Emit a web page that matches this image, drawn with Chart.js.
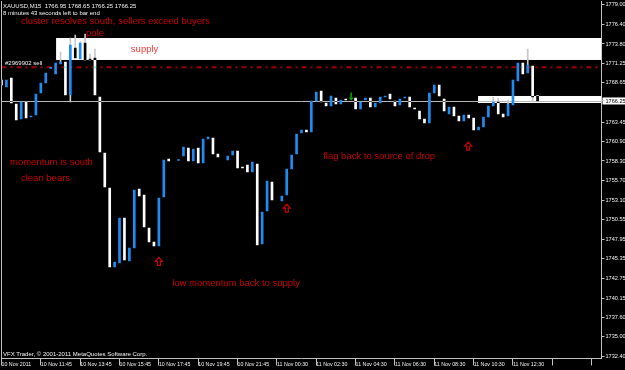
<!DOCTYPE html>
<html>
<head>
<meta charset="utf-8">
<title>XAUUSD,M15</title>
<script src="https://cdn.jsdelivr.net/npm/chart.js@4.4.0/dist/chart.umd.min.js"></script>
<style>
  body { margin: 0; background: #000; }
  #wrap { width: 625px; height: 370px; }
</style>
</head>
<body>
<div id="wrap"><canvas id="chart" width="625" height="370"></canvas></div>
<script>
// XAUUSD M15 bars, 10-11 Nov 2011
var opens = [
  1769.03, 1768.10, 1769.29, 1765.85, 1763.86, 1766.11, 1764.13, 1764.39, 1767.30, 1768.63,
  1770.55, 1769.82, 1771.15, 1771.41, 1767.04, 1773.26, 1771.81, 1773.93, 1771.81, 1771.94,
  1766.77, 1759.36, 1754.72, 1744.26, 1744.79, 1750.75, 1745.05, 1746.77, 1754.59, 1753.79,
  1749.42, 1747.57, 1747.04, 1753.53, 1758.56, 1758.36, 1758.36, 1758.96, 1760.02, 1758.30,
  1760.02, 1758.03, 1761.21, 1761.34, 1759.23, 1758.83, 1758.43, 1759.09, 1759.62, 1757.50,
  1757.77, 1756.84, 1757.90, 1747.30, 1751.68, 1755.52, 1753.13, 1753.00, 1753.79, 1757.24,
  1759.23, 1762.01, 1762.40, 1762.14, 1766.24, 1767.57, 1765.98, 1765.58, 1766.64, 1765.85,
  1766.51, 1766.38, 1766.64, 1765.19, 1766.38, 1766.64, 1765.45, 1765.98, 1766.77, 1767.17,
  1766.24, 1765.72, 1766.64, 1766.77, 1765.32, 1764.92, 1763.86, 1763.33, 1767.30, 1768.36,
  1766.51, 1764.52, 1765.45, 1764.26, 1763.60, 1764.39, 1763.99, 1762.40, 1762.80, 1764.13,
  1765.58, 1766.11, 1764.52, 1764.26, 1765.72, 1768.89, 1771.28, 1769.95, 1770.88, 1766.95
];
var highs = [
  1769.03, 1769.03, 1769.29, 1765.85, 1766.11, 1766.11, 1764.26, 1767.17, 1768.63, 1769.95,
  1770.70, 1771.28, 1772.73, 1771.41, 1774.59, 1774.99, 1774.10, 1775.12, 1772.47, 1773.13,
  1766.77, 1759.36, 1754.72, 1744.92, 1750.75, 1750.75, 1746.77, 1754.46, 1754.59, 1753.79,
  1749.42, 1747.57, 1753.40, 1758.43, 1758.56, 1758.36, 1758.50, 1760.15, 1760.02, 1759.89,
  1760.02, 1761.21, 1761.48, 1761.34, 1759.23, 1758.83, 1758.96, 1759.62, 1759.62, 1757.50,
  1757.77, 1758.17, 1757.90, 1751.54, 1755.65, 1755.52, 1753.13, 1753.66, 1757.24, 1759.09,
  1761.87, 1762.40, 1762.40, 1766.24, 1767.44, 1767.57, 1765.98, 1766.91, 1766.64, 1766.38,
  1766.51, 1766.38, 1766.64, 1766.11, 1766.64, 1766.64, 1765.98, 1766.77, 1766.91, 1767.17,
  1766.24, 1766.51, 1766.77, 1766.77, 1765.32, 1764.92, 1763.86, 1767.30, 1768.36, 1768.36,
  1766.51, 1765.45, 1765.45, 1764.26, 1764.39, 1764.39, 1763.99, 1762.80, 1764.13, 1765.58,
  1766.77, 1766.64, 1764.52, 1766.38, 1769.03, 1771.28, 1771.28, 1773.13, 1770.88, 1766.95
];
var lows = [
  1768.36, 1768.10, 1765.98, 1763.73, 1763.86, 1763.99, 1764.13, 1764.39, 1767.30, 1768.63,
  1770.55, 1769.82, 1771.15, 1767.04, 1766.11, 1771.94, 1771.81, 1771.68, 1771.68, 1767.04,
  1759.49, 1754.85, 1744.26, 1744.26, 1744.79, 1745.19, 1745.05, 1746.77, 1753.66, 1749.56,
  1747.57, 1747.04, 1747.04, 1753.53, 1758.30, 1758.36, 1758.36, 1758.96, 1758.30, 1758.30,
  1758.03, 1758.03, 1761.21, 1759.23, 1758.83, 1758.83, 1758.43, 1759.09, 1757.37, 1757.37,
  1756.84, 1756.84, 1747.17, 1747.30, 1751.68, 1753.13, 1753.13, 1753.00, 1753.79, 1757.24,
  1759.23, 1762.01, 1762.14, 1762.14, 1766.24, 1766.11, 1765.58, 1765.58, 1765.85, 1765.85,
  1766.38, 1766.38, 1765.19, 1765.19, 1766.38, 1765.45, 1765.45, 1765.98, 1766.77, 1766.51,
  1765.58, 1765.72, 1766.64, 1765.45, 1765.19, 1763.86, 1763.33, 1763.33, 1767.30, 1766.91,
  1764.92, 1764.52, 1764.26, 1763.60, 1763.60, 1763.99, 1762.40, 1762.40, 1762.80, 1764.13,
  1765.58, 1764.52, 1764.13, 1764.26, 1765.72, 1768.89, 1769.82, 1769.95, 1766.11, 1766.25
];
var closes = [
  1768.36, 1769.03, 1765.98, 1763.73, 1766.11, 1763.99, 1764.26, 1767.17, 1768.63, 1769.95,
  1770.70, 1771.28, 1771.41, 1767.04, 1773.66, 1771.94, 1773.93, 1771.68, 1771.68, 1767.04,
  1759.49, 1754.85, 1744.26, 1744.92, 1750.75, 1745.19, 1746.77, 1754.46, 1753.66, 1749.56,
  1747.57, 1747.04, 1753.40, 1758.43, 1758.30, 1758.36, 1758.50, 1760.15, 1758.30, 1759.89,
  1758.03, 1761.21, 1761.48, 1759.23, 1758.83, 1758.83, 1758.96, 1759.62, 1757.37, 1757.37,
  1756.84, 1758.17, 1747.17, 1751.54, 1755.65, 1753.13, 1753.13, 1753.66, 1757.24, 1759.09,
  1761.87, 1762.40, 1762.14, 1766.24, 1767.44, 1766.11, 1765.58, 1766.91, 1765.85, 1766.38,
  1766.38, 1766.38, 1765.19, 1766.11, 1766.64, 1765.45, 1765.98, 1766.77, 1766.91, 1766.51,
  1765.58, 1766.51, 1766.77, 1765.45, 1765.19, 1763.86, 1763.33, 1767.30, 1768.36, 1766.91,
  1764.92, 1765.45, 1764.26, 1763.60, 1764.39, 1763.99, 1762.40, 1762.80, 1764.13, 1765.58,
  1766.11, 1764.52, 1764.13, 1765.85, 1769.03, 1771.28, 1769.82, 1771.01, 1766.77, 1766.25
];

// time axis, one label every 8 bars
var xTickLabels = [
  '10 Nov 2011', '10 Nov 11:45', '10 Nov 13:45', '10 Nov 15:45', '10 Nov 17:45',
  '10 Nov 19:45', '10 Nov 21:45', '11 Nov 00:30', '11 Nov 02:30', '11 Nov 04:30',
  '11 Nov 06:30', '11 Nov 08:30', '11 Nov 10:30', '11 Nov 12:30'
];
// price axis (1766.05 is covered by the bid tag)
var yTickValues = [
  1779.00, 1776.40, 1773.80, 1771.25, 1768.65, 1766.25, 1763.45, 1760.90, 1758.30, 1755.70,
  1753.10, 1750.55, 1747.95, 1745.35, 1742.75, 1740.15, 1737.60, 1735.00, 1732.40
];

var bidPrice = 1766.25;
var sellPrice = 1770.70;
var supplyZone = { from: 11.1, top: 1774.59, bottom: 1771.68 };
var bidZone = { from: 96.9, top: 1766.91, bottom: 1765.98 };

// text objects placed on the chart (bar index, price)
var notes = [
  { text: 'cluster resolves south, sellers exceed buyers', idx: 3.96, price: 1776.84 },
  { text: 'pole', idx: 17.2, price: 1775.25 },
  { text: 'momentum is south', idx: 1.73, price: 1758.17 },
  { text: 'clean bears', idx: 3.96, price: 1756.05 },
  { text: 'low momentum back to supply', idx: 34.7, price: 1742.13 },
  { text: 'flag back to source of drop', idx: 65.4, price: 1758.96 }
];
var buyArrows = [
  { idx: 32, price: 1745.0 },
  { idx: 58, price: 1752.05 },
  { idx: 94.9, price: 1760.28 }
];
var sellArrow = { idx: 71.1, price: 1766.84 };

var barCount = 123;

function barTime(i) {
  // 45 minute break before the 11 Nov session
  var mins = 9 * 60 + 45 + i * 15 + (i >= 54 ? 45 : 0);
  var day = 10 + Math.floor(mins / 1440);
  mins = mins % 1440;
  var hh = Math.floor(mins / 60);
  var mm = mins % 60;
  return day + ' Nov ' + (hh < 10 ? '0' : '') + hh + ':' + (mm < 10 ? '0' : '') + mm;
}

var categories = [];
for (var i = 0; i < barCount; i++) {
  categories.push(barTime(i));
}

// wicks are split above and below the body so the body stays clean
var upperWicks = opens.map(function (o, i) {
  var top = Math.max(o, closes[i]);
  return highs[i] > top ? [top, highs[i]] : null;
});
var lowerWicks = opens.map(function (o, i) {
  var bottom = Math.min(o, closes[i]);
  return lows[i] < bottom ? [lows[i], bottom] : null;
});
var bullBodies = opens.map(function (o, i) {
  return closes[i] > o ? [o, closes[i]] : null;
});
var bearBodies = opens.map(function (o, i) {
  return closes[i] < o ? [closes[i], o] : null;
});

var smallFont = '6px "Liberation Sans"';
var noteFont = '9.5px "Liberation Sans"';
var noteColor = '#c80000';

function upArrow(c, x, y) {
  c.beginPath();
  c.moveTo(x, y - 4);
  c.lineTo(x + 3.5, y);
  c.lineTo(x + 1.5, y);
  c.lineTo(x + 1.5, y + 4);
  c.lineTo(x - 1.5, y + 4);
  c.lineTo(x - 1.5, y);
  c.lineTo(x - 3.5, y);
  c.closePath();
  c.stroke();
}

var overlayPlugin = {
  id: 'overlay',
  beforeDraw: function (chart) {
    var c = chart.ctx;
    var area = chart.chartArea;
    c.save();
    c.fillStyle = '#000';
    c.fillRect(0, 0, chart.width, chart.height);
    // bid price tag on the axis
    var y = chart.scales.y.getPixelForValue(bidPrice);
    c.fillStyle = '#fff';
    c.fillRect(area.right + 1, y - 3.5, chart.width - area.right - 1, 7);
    c.restore();
  },
  beforeDatasetsDraw: function (chart) {
    var c = chart.ctx;
    var area = chart.chartArea;
    var xs = chart.scales.x;
    var ys = chart.scales.y;
    c.save();
    c.beginPath();
    c.rect(area.left, area.top, area.right - area.left, area.bottom - area.top);
    c.clip();

    // supply rectangle
    var x0 = xs.getPixelForValue(supplyZone.from);
    var yt = ys.getPixelForValue(supplyZone.top);
    var yb = ys.getPixelForValue(supplyZone.bottom);
    c.fillStyle = '#fff';
    c.fillRect(x0, yt, area.right - x0, yb - yt);

    // small rectangle at the bid
    x0 = xs.getPixelForValue(bidZone.from);
    yt = ys.getPixelForValue(bidZone.top);
    yb = ys.getPixelForValue(bidZone.bottom);
    c.fillRect(x0, yt, area.right - x0, yb - yt);

    // sell order line
    var ySell = ys.getPixelForValue(sellPrice);
    c.strokeStyle = '#9a0000';
    c.lineWidth = 2;
    c.setLineDash([5, 4, 2, 4]);
    c.beginPath();
    c.moveTo(area.left, ySell);
    c.lineTo(area.right, ySell);
    c.stroke();
    c.setLineDash([]);

    // bid line
    var yBid = Math.round(ys.getPixelForValue(bidPrice)) + 0.5;
    c.strokeStyle = '#b8b8b8';
    c.lineWidth = 1;
    c.beginPath();
    c.moveTo(area.left, yBid);
    c.lineTo(area.right, yBid);
    c.stroke();
    c.restore();

    // left border
    c.save();
    c.strokeStyle = '#c0c0c0';
    c.lineWidth = 1;
    c.beginPath();
    c.moveTo(area.left, area.top);
    c.lineTo(area.left, area.bottom);
    c.stroke();
    c.restore();
  },
  beforeDatasetDraw: function (chart, args) {
    chart.ctx.save();
    // bear bodies invert what is under them (white on black, black on the boxes)
    if (args.index === 1) {
      chart.ctx.globalCompositeOperation = 'difference';
    }
  },
  afterDatasetDraw: function (chart) {
    chart.ctx.restore();
  },
  afterDatasetsDraw: function (chart) {
    var c = chart.ctx;
    var area = chart.chartArea;
    var xs = chart.scales.x;
    var ys = chart.scales.y;
    c.save();
    c.textBaseline = 'middle';
    c.textAlign = 'left';

    c.font = noteFont;
    c.fillStyle = noteColor;
    notes.forEach(function (n) {
      c.fillText(n.text, xs.getPixelForValue(n.idx), ys.getPixelForValue(n.price));
    });
    c.fillStyle = '#ff3a3a';
    c.fillText('supply', xs.getPixelForValue(26.3), ys.getPixelForValue(1773.13));

    c.strokeStyle = noteColor;
    c.lineWidth = 1.2;
    buyArrows.forEach(function (a) {
      upArrow(c, xs.getPixelForValue(a.idx), ys.getPixelForValue(a.price));
    });

    // sell arrow
    var ax = xs.getPixelForValue(sellArrow.idx);
    var ay = ys.getPixelForValue(sellArrow.price);
    c.fillStyle = '#00b000';
    c.fillRect(ax - 0.75, ay - 4, 1.5, 5);
    c.beginPath();
    c.moveTo(ax - 2.5, ay + 1);
    c.lineTo(ax + 2.5, ay + 1);
    c.lineTo(ax, ay + 4);
    c.closePath();
    c.fill();

    c.font = smallFont;
    c.fillStyle = '#f0f0f0';
    c.fillText('XAUUSD,M15  1766.95 1768.65 1766.25 1766.25', area.left + 1.5, 6);
    c.fillText('8 minutes 43 seconds left to bar end', area.left + 1.5, 13.5);
    c.fillText('#2969902 sell', area.left + 3.5, ys.getPixelForValue(sellPrice) - 4.5);
    c.fillText('VFX Trader, \u00a9 2001-2011 MetaQuotes Software Corp.', area.left + 1.5, 354.5);
    c.restore();
  }
};

var ctx = document.getElementById('chart').getContext('2d');
var chart = new Chart(ctx, {
  type: 'bar',
  data: {
    labels: categories,
    datasets: [
      {
        label: 'bull',
        data: bullBodies,
        backgroundColor: '#1e8cf0',
        barThickness: 2,
        grouped: false,
        order: 1
      },
      {
        label: 'bear',
        data: bearBodies,
        backgroundColor: '#ffffff',
        barThickness: 2,
        grouped: false,
        order: 1
      },
      {
        label: 'upper wick',
        data: upperWicks,
        backgroundColor: '#c8c8c8',
        barThickness: 1,
        grouped: false,
        order: 2
      },
      {
        label: 'lower wick',
        data: lowerWicks,
        backgroundColor: '#c8c8c8',
        barThickness: 1,
        grouped: false,
        order: 2
      }
    ]
  },
  options: {
    responsive: false,
    animation: false,
    layout: { padding: { left: 1.5, top: 1, right: 0, bottom: 0 } },
    plugins: {
      legend: { display: false },
      tooltip: { enabled: false }
    },
    scales: {
      x: {
        type: 'category',
        offset: false,
        grid: {
          offset: false,
          drawOnChartArea: false,
          tickLength: 7,
          color: function (c) {
            return c.index % 8 === 0 ? '#c0c0c0' : 'rgba(0,0,0,0)';
          }
        },
        border: { color: '#c0c0c0' },
        ticks: {
          autoSkip: false,
          maxRotation: 0,
          minRotation: 0,
          align: 'start',
          padding: -4.5,
          color: '#f0f0f0',
          font: { family: 'Liberation Sans', size: 5.3 },
          callback: function (v, i) {
            return i % 8 === 0 ? (xTickLabels[i / 8] || '') : '';
          }
        },
        afterFit: function (s) {
          s.height = 11.5;
          s.paddingLeft = 0;
          s.paddingRight = 0;
        }
      },
      y: {
        position: 'right',
        min: 1732.14,
        max: 1779.49,
        grid: { drawOnChartArea: false, tickLength: 3, color: '#c0c0c0' },
        border: { color: '#c0c0c0' },
        ticks: {
          padding: 1,
          font: { family: 'Liberation Sans', size: 5.6 },
          color: function (c) {
            return c.tick && c.tick.value === bidPrice ? '#000' : '#f0f0f0';
          },
          callback: function (v) {
            return v.toFixed(2);
          }
        },
        afterBuildTicks: function (s) {
          s.ticks = yTickValues.map(function (v) {
            return { value: v };
          });
        },
        afterFit: function (s) {
          s.width = 23.5;
          s.paddingTop = 0;
          s.paddingBottom = 0;
        }
      }
    }
  },
  plugins: [overlayPlugin]
});
</script>
</body>
</html>
